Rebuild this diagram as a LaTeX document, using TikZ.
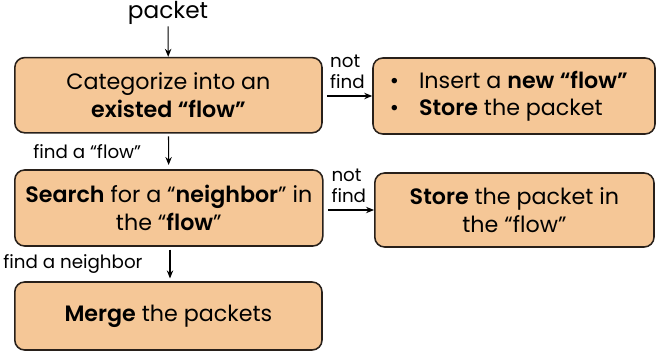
\documentclass[tikz,border=0pt]{standalone}
\usepackage{fontspec}
\setmainfont{Poppins}[BoldFont={Poppins SemiBold}]
\usepackage{xcolor}
\usetikzlibrary{arrows.meta,positioning,calc}
\definecolor{flowfill}{RGB}{245,199,151}
\definecolor{flowedge}{RGB}{40,32,26}
\tikzset{
flbox/.style={rectangle,rounded corners=7pt,draw=flowedge,line width=1.1pt,fill=flowfill,align=center,inner sep=2pt,font=\fontsize{15.8}{19.5}\selectfont},
flarr/.style={-{Stealth[length=2mm,width=1.6mm]},line width=0.8pt},
fllabel/.style={font=\fontsize{13}{15}\selectfont,inner sep=1.5pt}
}
\begin{document}
\begin{tikzpicture}[x=1cm,y=1cm]
\useasboundingbox (0,0) rectangle (16.75,-9.075);
\node[font=\fontsize{16.5}{19}\selectfont,inner sep=1pt] (packet) at (4.2,-0.33) {packet};
\node[flbox,minimum width=7.68cm,minimum height=1.88cm]
  (categorize) at (4.21,-2.38) {Categorize into an\\\textbf{existed “flow”}};
\node[flbox,minimum width=7.05cm,minimum height=1.90cm]
  (insert) at (12.85,-2.40) {};
\node[font=\fontsize{15.8}{19.5}\selectfont,align=left,inner sep=0pt]
  (inserttext) at (12.72,-2.40) {\textbullet\hspace{0.9em}Insert a \textbf{new “flow”}\\\textbullet\hspace{0.9em}\textbf{Store} the packet};
\node[flbox,minimum width=7.70cm,minimum height=1.90cm]
  (search) at (4.22,-5.20) {\textbf{Search} for a “\textbf{neighbor}” in\\the “\textbf{flow}”};
\node[flbox,minimum width=6.98cm,minimum height=1.85cm]
  (store) at (12.86,-5.25) {\textbf{Store} the packet in\\the “flow”};
\node[flbox,minimum width=7.68cm,minimum height=1.70cm]
  (merge) at (4.21,-7.90) {\textbf{Merge} the packets};
\draw[flarr] (packet)--(categorize);
\draw[flarr,shorten <=2pt,shorten >=3pt] (categorize)--node[fllabel,left=0.62cm]{find a “flow”}(search);
\draw[flarr,shorten <=2pt,shorten >=2pt] (search.south -| 4.25,0)--node[fllabel,left=0.62cm]{find a neighbor}(merge.north -| 4.25,0);
\draw[flarr,shorten <=3pt] (categorize.east |- insert)--node[fllabel,above=3pt,align=left]{not\\find}(insert);
\draw[flarr,shorten <=3pt] (search.east |- store)--node[fllabel,above=3pt,align=left]{not\\find}(store);
\end{tikzpicture}
\end{document}
